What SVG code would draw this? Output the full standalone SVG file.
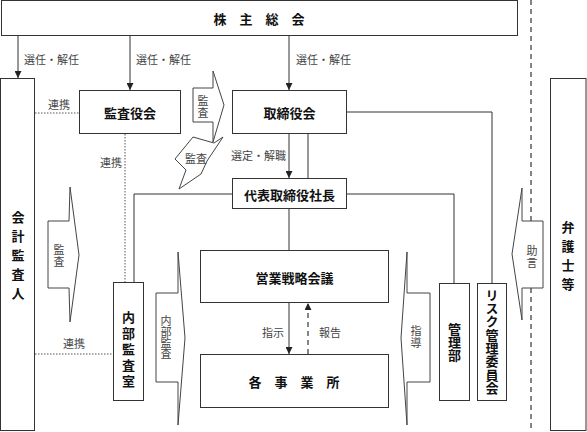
<svg xmlns="http://www.w3.org/2000/svg" width="587" height="432" viewBox="0 0 587 432">
<style>
.box{fill:#fff;stroke:#333;stroke-width:1}
.arr{fill:#fff;stroke:#444;stroke-width:1}
.ln{fill:none;stroke:#333;stroke-width:1}
.dot{fill:none;stroke:#555;stroke-width:1;stroke-dasharray:1.5 1.5}
.dash{fill:none;stroke:#333;stroke-width:1.2;stroke-dasharray:5 4}
.t{font-family:"Noto Sans CJK JP","Noto Sans",sans-serif;font-size:13px;font-weight:bold;fill:#111;text-anchor:middle;dominant-baseline:central}
.s{font-family:"Noto Sans CJK JP","Noto Sans",sans-serif;font-size:11px;fill:#444;dominant-baseline:central}
.sc{text-anchor:middle}
.v{writing-mode:vertical-rl;text-orientation:upright}
</style>
<defs>
<marker id="ah" viewBox="0 0 8 8" refX="8" refY="4" markerWidth="7" markerHeight="7" markerUnits="userSpaceOnUse" orient="auto">
<path d="M0,0 L8,4 L0,8 Z" fill="#222"/>
</marker>
</defs>
<path class="dash" d="M531,0 V432"/>
<g id="connectors">
<path class="ln" d="M18,36 V78" marker-end="url(#ah)"/>
<path class="ln" d="M130,36 V90" marker-end="url(#ah)"/>
<path class="ln" d="M289,36 V90" marker-end="url(#ah)"/>
<path class="ln" d="M347,112 H492 V283"/>
<path class="dot" d="M35,113 H79"/>
<path class="dot" d="M125,134 V282"/>
<path class="dot" d="M35,354 H113"/>
<path class="ln" d="M289,134 V178" marker-end="url(#ah)"/>
<path class="ln" d="M308,134 V178"/>
<path class="ln" d="M232,194 H134 V282"/>
<path class="ln" d="M347,194 H454 V283"/>
<path class="ln" d="M289,208 V250"/>
<path class="ln" d="M289,303 V354" marker-end="url(#ah)"/>
<path class="dash" d="M308,354 V303" stroke-width="1" marker-end="url(#ah)"/>
<text class="s" x="24" y="59">選任・解任</text>
<text class="s" x="136" y="59">選任・解任</text>
<text class="s" x="296" y="59">選任・解任</text>
<text class="s" x="48" y="104">連携</text>
<text class="s" x="100" y="162">連携</text>
<text class="s" x="63" y="343">連携</text>
<text class="s" x="231" y="155">選定・解職</text>
<text class="s" x="262" y="332">指示</text>
<text class="s" x="319" y="332">報告</text>
</g>
<g id="arrow-kansa-top">
<polygon class="arr" points="193,88 213,88 213,71 224,105 213,142 213,122 193,122"/>
<text class="s sc v" x="203" y="107" letter-spacing="1">監査</text>
</g>
<g id="arrow-kansa-zig">
<polygon class="arr" points="193,137 214,143 223,137 207,161 201,174 179,189 186,170 175,159"/>
<text class="s sc" x="196" y="158">監査</text>
</g>
<g id="arrow-kansa-left">
<polygon class="arr" points="48,221 69,221 70,187 79,255 70,322 69,288 48,288"/>
<text class="s sc v" x="59" y="256" letter-spacing="1">監査</text>
</g>
<g id="arrow-naibu">
<polygon class="arr" points="156,293 178,293 178,252 185,338 178,425 178,382 156,382"/>
<text class="s sc v" x="166" y="337">内部監査</text>
</g>
<g id="arrow-shidou">
<polygon class="arr" points="430,293 407,293 407,252 401,338 407,425 407,382 430,382"/>
<text class="s sc v" x="416" y="337" letter-spacing="1">指導</text>
</g>
<g id="arrow-jogen">
<polygon class="arr" points="543,221 522,221 522,188 512,254 522,320 522,288 543,288"/>
<text class="s sc v" x="532" y="257" letter-spacing="1">助言</text>
</g>
<g id="kabunushi">
<rect class="box" x="1.5" y="0.5" width="516" height="35"/>
<text class="t" x="259" y="18">株　主　総　会</text>
</g>
<g id="kaikei">
<rect class="box" x="0.5" y="78.5" width="34" height="352"/>
<text class="t v" x="18" y="258" letter-spacing="6">会計監査人</text>
</g>
<g id="kansayakukai">
<rect class="box" x="79.5" y="90.5" width="101" height="43"/>
<text class="t" x="130" y="112">監査役会</text>
</g>
<g id="torishimariyakukai">
<rect class="box" x="232.5" y="90.5" width="114" height="43"/>
<text class="t" x="289.5" y="112">取締役会</text>
</g>
<g id="daihyo">
<rect class="box" x="232.5" y="178.5" width="114" height="30"/>
<text class="t" x="289.5" y="194">代表取締役社長</text>
</g>
<g id="eigyo">
<rect class="box" x="200.5" y="250.5" width="188" height="52"/>
<text class="t" x="294.5" y="277">営業戦略会議</text>
</g>
<g id="jigyosho">
<rect class="box" x="200.5" y="354.5" width="188" height="53"/>
<text class="t" x="294" y="381">各　事　業　所</text>
</g>
<g id="naibukansashitsu">
<rect class="box" x="113.5" y="282.5" width="30" height="118"/>
<text class="t v" x="128.5" y="350.5" letter-spacing="3">内部監査室</text>
</g>
<g id="kanribu">
<rect class="box" x="439.5" y="283.5" width="30" height="117"/>
<text class="t v" x="454.5" y="342">管理部</text>
</g>
<g id="risk">
<rect class="box" x="477.5" y="283.5" width="29" height="117"/>
<text class="t v" x="492" y="341.5" letter-spacing="0.3">リスク管理委員会</text>
</g>
<g id="bengoshi">
<rect class="box" x="550.5" y="78.5" width="35.5" height="352"/>
<text class="t v" x="568" y="259" letter-spacing="6">弁護士等</text>
</g>
</svg>
